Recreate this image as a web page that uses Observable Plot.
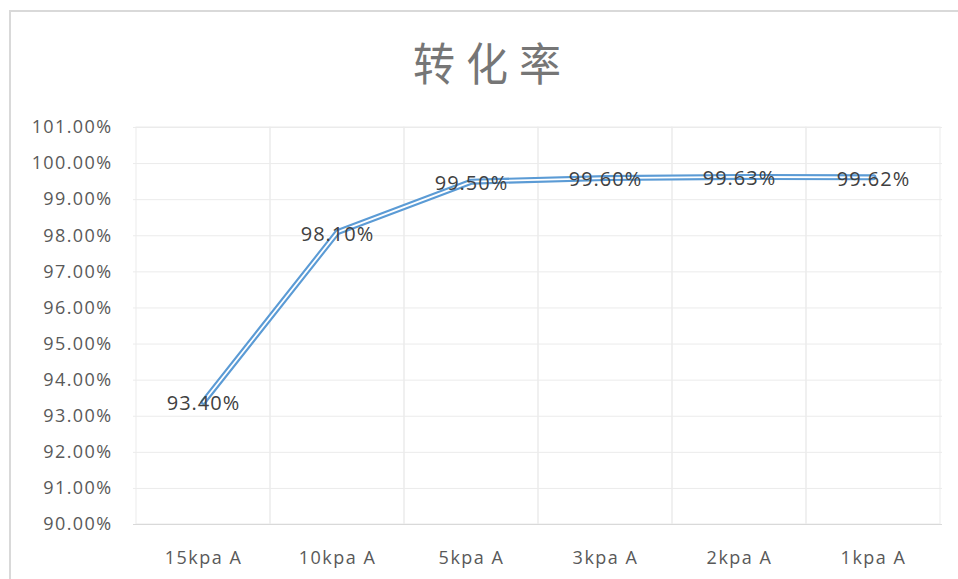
<!DOCTYPE html>
<html>
<head>
<meta charset="utf-8">
<script src="https://cdn.jsdelivr.net/npm/d3@7"></script>
<script src="https://cdn.jsdelivr.net/npm/@observablehq/plot@0.6"></script>
<style>
  body { margin: 0; background: #fff; }
  #chart { position: relative; width: 958px; height: 579px; overflow: hidden; font-family: "Open Sans", sans-serif; }
  #frame { position: absolute; left: 9px; top: 10px; width: 1000px; height: 700px; border: 2px solid #d9d9d9; box-sizing: border-box; }
  #title { position: absolute; left: 0; width: 985px; top: 32px; text-align: center; font-size: 42px; line-height: 60px; color: #767676; letter-spacing: 11px; font-family: "Noto Sans CJK SC", sans-serif; font-weight: 400; transform: scaleY(1.08); transform-origin: 50% 50%; }
  #plot { position: absolute; left: 0; top: 0; }
</style>
</head>
<body>
<div id="chart">
  <div id="frame"></div>
  <div id="title">转化率</div>
  <div id="plot"></div>
</div>
<script>
// Conversion rate (%) at each vacuum level
const categories = ["15kpa A", "10kpa A", "5kpa A", "3kpa A", "2kpa A", "1kpa A"];
const rates = [93.40, 98.10, 99.50, 99.60, 99.63, 99.62];
const yTicks = [90, 91, 92, 93, 94, 95, 96, 97, 98, 99, 100, 101];

const data = categories.map((c, i) => ({cat: c, value: rates[i]}));
const pct = v => v.toFixed(2) + "%";

const chart = Plot.plot({
  width: 958,
  height: 579,
  marginTop: 127,
  marginBottom: 55,
  marginLeft: 133,
  marginRight: 16,
  style: {fontFamily: "'Open Sans', sans-serif", background: "transparent", overflow: "visible"},
  x: {type: "band", domain: categories, padding: 0, label: null, tickSize: 0, tickPadding: 27},
  y: {domain: [90, 101], ticks: yTicks, tickFormat: pct, label: null, tickSize: 0, tickPadding: 21},
  marks: [
    Plot.ruleY(yTicks, {stroke: "#ebebeb", strokeWidth: 1}),
    Plot.cell(categories, {x: d => d, fill: "none", stroke: "#ebebeb", inset: 0}),
    Plot.ruleY([90], {stroke: "#d9d9d9", strokeWidth: 1.2}),
    // double-stroke line: wide blue stroke with a thin white core
    Plot.line(data, {x: "cat", y: "value", stroke: "#5b9bd5", strokeWidth: 6, strokeLinejoin: "round"}),
    Plot.line(data, {x: "cat", y: "value", stroke: "#ffffff", strokeWidth: 1.8, strokeLinejoin: "round"}),
    Plot.text(data, {x: "cat", y: "value", dy: 2, text: d => pct(d.value), fill: "#404040", fontSize: 20})
  ]
});

chart.querySelectorAll("[aria-label='y-axis tick label']").forEach(g => {
  g.setAttribute("font-size", 18);
  g.setAttribute("fill", "#595959");
  g.style.letterSpacing = "1.4px";
});
chart.querySelectorAll("[aria-label='x-axis tick label']").forEach(g => {
  g.setAttribute("font-size", 18);
  g.setAttribute("fill", "#595959");
  g.style.letterSpacing = "1.5px";
});
chart.querySelectorAll("g[aria-label='text']").forEach(g => {
  g.style.letterSpacing = "1px";
});
document.getElementById("plot").appendChild(chart);
</script>
</body>
</html>
